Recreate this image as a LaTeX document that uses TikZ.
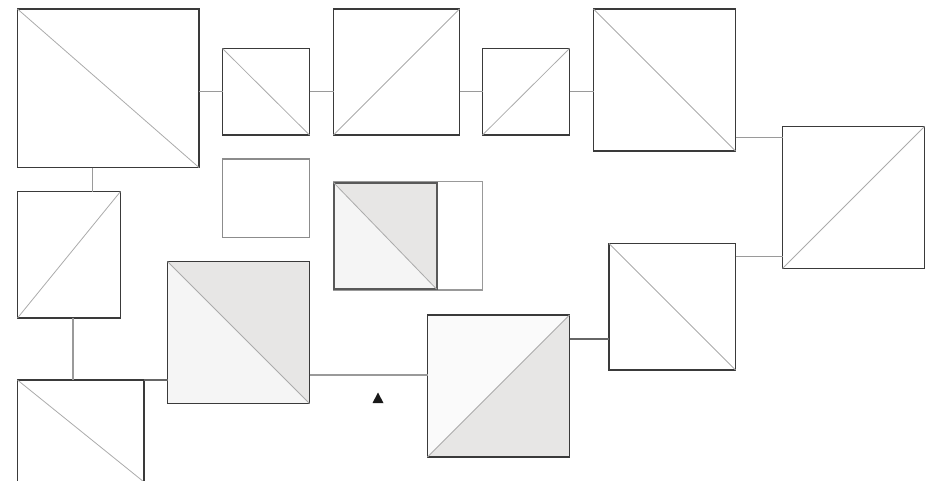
\documentclass[tikz,border=0pt]{standalone}
\usetikzlibrary{calc}
\definecolor{edgegray}{HTML}{3A3A3A}
\definecolor{diaggray}{HTML}{ABABAB}
\definecolor{linkgray}{HTML}{9A9A9A}
\definecolor{shadelight}{HTML}{F5F5F5}
\definecolor{shadedark}{HTML}{E7E6E5}
\tikzset{
  box/.style={draw=edgegray, line width=1pt, inner sep=0pt, outer sep=0pt},
  diag/.style={draw=diaggray, line width=0.6pt},
  link/.style={draw=linkgray, line width=0.9pt}
}
\begin{document}
\begin{tikzpicture}[x=0.75pt, y=-0.75pt]
  \useasboundingbox (0,0) rectangle (937,480);
  % plain boxes: name / left / top / right / bottom
  \foreach \n/\l/\t/\r/\b in {b1/17.5/9/199/167.5, b2/222.5/48.5/309.5/135, b3/333.5/9/459.5/135,
      b4/482.5/48.5/569.5/135, b5/593.5/9/735.5/151, b6/782.5/126.5/924.5/268.5,
      b7/609/243.5/735.5/370, b10/17.5/191.5/120.5/318, b11/17.5/380/144/482} {
    \node[box, minimum width=(\r-\l)*0.75pt, minimum height=(\b-\t)*0.75pt] (\n) at ({(\l+\r)/2},{(\t+\b)/2}) {};
  }
  % shaded boxes
  \node[box, minimum width=142*0.75pt, minimum height=142*0.75pt] (b8) at (498.5,386) {};
  \node[box, minimum width=142*0.75pt, minimum height=142*0.75pt] (b9) at (238.5,332.5) {};
  \fill[white!98!black] (b8.south west) -- (b8.north west) -- (b8.north east) -- cycle;
  \fill[shadedark] (b8.south west) -- (b8.south east) -- (b8.north east) -- cycle;
  \fill[shadelight] (b9.north west) -- (b9.south west) -- (b9.south east) -- cycle;
  \fill[shadedark] (b9.north west) -- (b9.north east) -- (b9.south east) -- cycle;
  \node[box, minimum width=142*0.75pt, minimum height=142*0.75pt] at (b8) {};
  \node[box, minimum width=142*0.75pt, minimum height=142*0.75pt] at (b9) {};
  % empty boxes
  \node[box, draw=black!45, line width=0.8pt, minimum width=87*0.75pt, minimum height=78.5*0.75pt] (b12) at (266,198.25) {};
  \node[box, draw=black!40, line width=0.8pt, minimum width=149*0.75pt, minimum height=108.5*0.75pt] (b13) at (408,235.75) {};
  \node[box, minimum width=103*0.75pt, minimum height=106.5*0.75pt] (b14) at (385,235.75) {};
  \fill[shadelight] (b14.north west) -- (b14.south west) -- (b14.south east) -- cycle;
  \fill[shadedark] (b14.north west) -- (b14.north east) -- (b14.south east) -- cycle;
  \node[box, draw=black!65, line width=1.5pt, minimum width=103*0.75pt, minimum height=106.5*0.75pt] at (b14) {};
  % diagonals
  \foreach \n in {b1, b2, b5, b7, b9, b11, b14} {
    \draw[diag] (\n.north west) -- (\n.south east);
  }
  \foreach \n in {b3, b4, b6, b8, b10} {
    \draw[diag] (\n.south west) -- (\n.north east);
  }
  % connectors
  \draw[link] (b1.east |- b2.west) -- (b2.west);
  \draw[link] (b2.east) -- (b2.east -| b3.west);
  \draw[link] (b4.west -| b3.east) -- (b4.west);
  \draw[link] (b4.east) -- (b4.east -| b5.west);
  \draw[link] (b5.east |- 0,137.5) -- (b6.west |- 0,137.5);
  \draw[link] (b7.east |- 0,256.5) -- (b6.west |- 0,256.5);
  \draw[link] (b1.south -| 92.5,0) -- (b10.north -| 92.5,0);
  \draw[link] (b10.south -| 73,0) -- (b11.north -| 73,0);
  \draw[link, draw=black!60] (b11.north east) -- (b11.north east -| b9.west);
  \draw[link] (b9.east |- 0,375) -- (b8.west |- 0,375);
  \draw[link, draw=black!60] (b8.east |- 0,339) -- (b7.west |- 0,339);
  % marker
  \fill[black!90] (372.5,403) -- (383.5,403) -- (378,392.5) -- cycle;
\end{tikzpicture}
\end{document}
